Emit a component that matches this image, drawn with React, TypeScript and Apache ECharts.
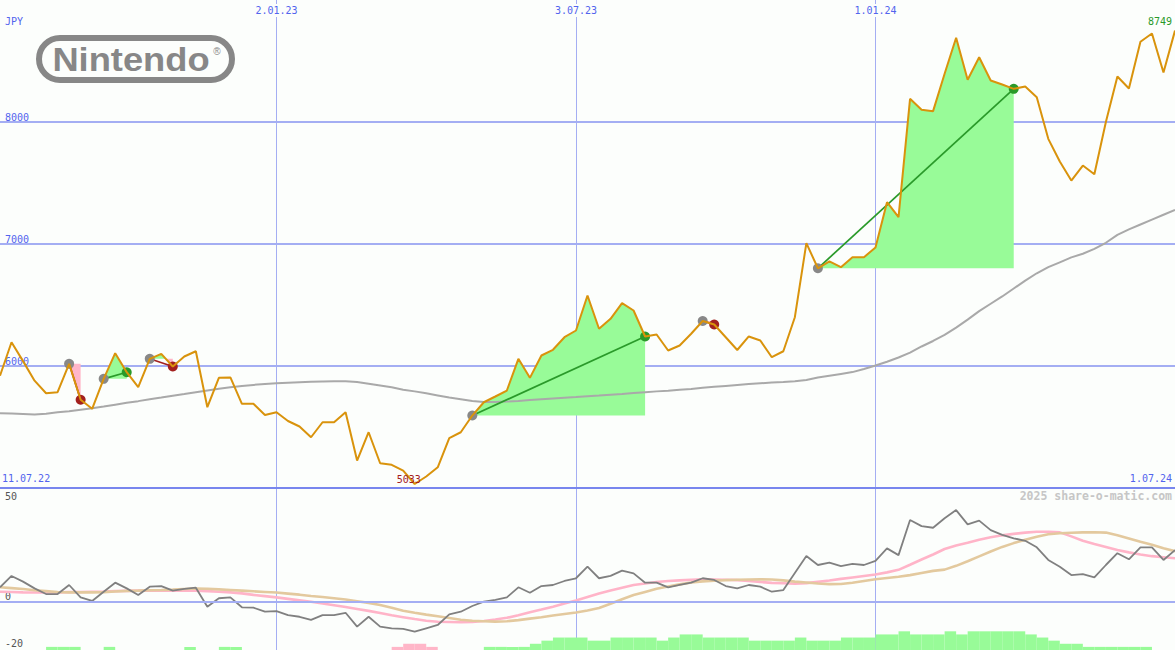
import React, { useEffect, useRef } from "react";
import * as echarts from "echarts";

// ---- labels ----
const currency = "JPY";
const rangeStartLabel = "11.07.22";
const rangeEndLabel = "1.07.24";
const creditText = "2025 share-o-matic.com";
const tickDates = ["2.01.23", "3.07.23", "1.01.24"];
const firstWeek = [2022, 6, 18]; // Monday 18 July 2022
const weekCount = 103;

// ---- price panel (JPY, weekly closes) ----
const priceMin = 5000;
const priceMax = 9000;
const priceStep = 1000;

const price = [
  5920, 6195, 6040, 5880, 5777, 5785, 6018, 5723, 5649, 5895,
  6105, 5949, 5826, 6059, 6100, 5996, 6078, 6121, 5662, 5903,
  5906, 5690, 5690, 5598, 5621, 5549, 5504, 5416, 5539, 5539,
  5621, 5225, 5457, 5203, 5190, 5143, 5033, 5094, 5170, 5408,
  5457, 5594, 5703, 5750, 5799, 6059, 5903, 6086, 6133, 6236,
  6291, 6578, 6305, 6387, 6515, 6455, 6242, 6258, 6127, 6168,
  6264, 6369, 6340, 6236, 6131, 6242, 6209, 6072, 6121, 6400,
  7007, 6801, 6857, 6810, 6892, 6892, 6971, 7343, 7220, 8190,
  8100, 8089, 8395, 8690, 8346, 8531, 8340, 8307, 8272, 8291,
  8203, 7862, 7676, 7520, 7643, 7572, 8000, 8373, 8275, 8658,
  8725, 8406, 8749,
];

const movingAvg = [
  5613, 5610, 5606, 5602, 5608, 5620, 5630, 5642, 5654, 5668,
  5683, 5698, 5712, 5727, 5741, 5756, 5770, 5785, 5800, 5814,
  5826, 5836, 5845, 5852, 5859, 5863, 5867, 5870, 5872, 5874,
  5875, 5868, 5855, 5840, 5825, 5806, 5792, 5776, 5759, 5742,
  5728, 5714, 5704, 5704, 5708, 5714, 5722, 5728, 5734, 5740,
  5745, 5752, 5758, 5765, 5771, 5778, 5785, 5792, 5798, 5805,
  5812, 5821, 5829, 5837, 5845, 5852, 5858, 5864, 5869, 5875,
  5885, 5905, 5920, 5935, 5950, 5975, 6004, 6035, 6070, 6110,
  6160, 6205, 6255, 6315, 6380, 6450, 6510, 6570, 6635, 6700,
  6760, 6810, 6850, 6890, 6920, 6960, 7010, 7075, 7120, 7160,
  7200, 7240, 7279,
];

// trades: entry week index -> exit week index
const tradeStart = [6, 9, 13, 41, 61, 71];
const tradeEnd = [7, 11, 15, 56, 62, 88];

// ---- indicator panel ----
const lowerMin = -23;
const lowerMax = 54;
const lowerTicks = [-20, 0, 50];

const momentum = [
  6.8, 12.2, 9.5, 6.3, 3.6, 3.6, 7.9, 2.0, 0.3, 4.7,
  9.0, 6.3, 3.1, 7.1, 7.4, 5.2, 6.1, 6.6, -2.4, 1.6,
  2.0, -2.7, -2.9, -4.8, -4.5, -6.4, -7.2, -8.7, -6.4, -6.4,
  -5.3, -11.9, -7.2, -11.9, -12.7, -13.0, -14.3, -12.7, -11.1, -6.1,
  -4.8, -2.1, 0, 0.8, 2.0, 6.8, 4.2, 7.4, 7.9, 9.8,
  11.1, 16.6, 11.1, 12.2, 14.7, 13.4, 9.0, 9.0, 6.8, 7.9,
  9.0, 11.1, 10.3, 7.4, 6.3, 7.9, 7.1, 4.7, 5.5, 13.6,
  21.7, 17.4, 18.5, 16.9, 17.9, 17.4, 19.4, 25.3, 22.1, 38.8,
  35.9, 35.1, 39.6, 43.5, 36.7, 38.5, 34.0, 31.7, 30.1, 28.9,
  25.8, 19.8, 16.6, 12.6, 13.1, 11.5, 17.4, 23.0, 20.1, 25.8,
  25.8, 19.8, 24.5,
];

const momentumFast = [
  4.7, 4.6, 4.4, 4.3, 4.3, 4.4, 4.5, 4.6, 4.7, 4.8,
  5.0, 5.1, 5.2, 5.2, 5.2, 5.2, 5.2, 5.2, 5.0, 4.7,
  4.4, 3.9, 3.2, 2.6, 2.0, 1.3, 0.6, -0.1, -0.9, -1.7,
  -2.6, -3.5, -4.4, -5.4, -6.5, -7.4, -8.3, -9.1, -9.6, -9.7,
  -9.8, -9.7, -9.2, -8.5, -7.7, -6.5, -5.1, -3.8, -2.4, -0.9,
  0.5, 2.2, 3.9, 5.3, 6.6, 7.9, 8.6, 9.3, 9.8, 10.1,
  10.4, 10.6, 10.5, 10.4, 10.2, 9.8, 9.3, 8.9, 8.7, 8.5,
  8.8, 9.4, 10.0, 10.8, 11.5, 12.2, 12.9, 13.9, 15.1, 17.5,
  20.0, 22.4, 25.0, 26.7, 28.0, 29.4, 30.6, 31.5, 32.2, 32.8,
  33.2, 33.2, 32.9, 31.0, 28.9, 27.4, 26.0, 24.5, 23.4, 22.4,
  21.6, 21.1, 20.6,
];

const momentumSlow = [
  6.8, 6.4, 6.0, 5.4, 5.0, 4.6, 4.4, 4.4, 4.4, 4.5,
  4.8, 5.1, 5.2, 5.4, 5.5, 5.7, 6.0, 6.2, 6.1, 5.8,
  5.5, 5.2, 4.9, 4.6, 4.3, 3.8, 3.3, 2.7, 2.2, 1.6,
  1.0, 0.2, -0.6, -1.6, -2.9, -4.3, -5.3, -6.2, -7.0, -7.8,
  -8.6, -9.1, -9.3, -9.5, -9.3, -8.8, -8.1, -7.4, -6.6, -5.9,
  -5.2, -4.2, -3.0, -1.0, 1.1, 3.1, 4.6, 6.1, 7.2, 8.2,
  9.1, 9.6, 9.9, 10.2, 10.4, 10.5, 10.6, 10.5, 10.1, 9.5,
  9.1, 8.6, 8.3, 8.4, 9.0, 9.8, 10.6, 11.2, 11.8, 12.6,
  13.6, 14.6, 15.2, 17.0, 19.2, 21.5, 23.8, 26.0, 27.8, 29.4,
  30.8, 32.0, 32.5, 32.7, 32.9, 33.0, 32.8, 31.5, 30.0, 28.4,
  27.0, 25.4, 24.0,
];

// signal strength per week interval (positive = buy, negative = sell)
const signalBins = [
  0, 0, 0, 0, 1, 1, 1, 0, 0, 1,
  0, 0, 0, 0, 0, 0, 1, 0, 0, 1,
  1, 0, 0, 0, 0, 0, 0, 0, 0, 0,
  0, 0, 0, 0, -1, -2, -2, -1, 0, 0,
  0, 0, 1, 1, 1, 1, 2, 3, 4, 4,
  4, 3, 3, 4, 4, 4, 4, 3, 4, 5,
  5, 4, 4, 4, 4, 3, 3, 3, 3, 4,
  3, 3, 3, 4, 4, 4, 5, 5, 6, 5,
  5, 5, 6, 5, 6, 6, 6, 6, 6, 5,
  4, 3, 2, 2, 1, 1, 1, 1, 1, 1,
  0, 0,
];
const signalMax = 52;

// ---- styling ----
const BG = "#fcfefc";
const FONT = '"DejaVu Sans Mono", monospace';
const LABEL_BLUE = "#5264ee";
const GRID_LINE = "#a4aef3";
const BORDER = "#7886ee";
const PRICE_COLOR = "#d9930c";
const AVG_COLOR = "#a9a9a9";
const GAIN_FILL = "#98fb98";
const LOSS_FILL = "#ffb6c8";
const GAIN_LINE = "#2a9a2a";
const LOSS_LINE = "#a3201e";
const ENTRY_DOT = "#888888";

function weekLabels(): string[] {
  const out: string[] = [];
  const start = Date.UTC(firstWeek[0], firstWeek[1], firstWeek[2]);
  for (let k = 0; k < weekCount; k++) {
    const d = new Date(start + k * 7 * 86400000);
    const dd = d.getUTCDate();
    const mm = String(d.getUTCMonth() + 1).padStart(2, "0");
    const yy = String(d.getUTCFullYear() % 100).padStart(2, "0");
    out.push(`${dd}.${mm}.${yy}`);
  }
  return out;
}

const isTick = (_i: number, value: string) => tickDates.includes(value);

// area between the price and the entry level for each trade
function renderTradeFill(params: any, api: any) {
  const k = params.dataIndex;
  const s = tradeStart[k];
  const e = tradeEnd[k];
  const by = api.coord([s, price[s]])[1];
  const pts: number[][] = [];
  for (let i = s; i <= e; i++) {
    const p = api.coord([i, price[i]]);
    if (pts.length) {
      const prev = pts[pts.length - 1];
      if ((prev[1] - by) * (p[1] - by) < 0) {
        const t = (by - prev[1]) / (p[1] - prev[1]);
        pts.push([prev[0] + t * (p[0] - prev[0]), by]);
      }
    }
    pts.push([p[0], p[1]]);
  }
  const x0 = pts[0][0];
  const x1 = pts[pts.length - 1][0];
  const above = pts.map(([x, y]) => [x, Math.min(y, by)]).concat([[x1, by], [x0, by]]);
  const below = pts.map(([x, y]) => [x, Math.max(y, by)]).concat([[x1, by], [x0, by]]);
  return {
    type: "group",
    children: [
      { type: "polygon", shape: { points: above }, style: { fill: GAIN_FILL } },
      { type: "polygon", shape: { points: below }, style: { fill: LOSS_FILL } },
    ],
  };
}

// entry/exit markers joined by a line
function renderTradeMarks(params: any, api: any) {
  const k = params.dataIndex;
  const s = tradeStart[k];
  const e = tradeEnd[k];
  const a = api.coord([s, price[s]]);
  const b = api.coord([e, price[e]]);
  const gain = price[e] >= price[s];
  return {
    type: "group",
    children: [
      {
        type: "line",
        shape: { x1: a[0], y1: a[1], x2: b[0], y2: b[1] },
        style: { stroke: gain ? GAIN_LINE : LOSS_LINE, lineWidth: 1.7 },
      },
      { type: "circle", shape: { cx: a[0], cy: a[1], r: 5 }, style: { fill: ENTRY_DOT } },
      {
        type: "circle",
        shape: { cx: b[0], cy: b[1], r: 5 },
        style: { fill: gain ? GAIN_LINE : LOSS_LINE },
      },
    ],
  };
}

function buildOption() {
  const weeks = weekLabels();
  const bins = weeks.slice(0, weeks.length - 1);
  const tradeData = tradeStart.map((s) => [s, price[s]]);

  return {
    animation: false,
    backgroundColor: BG,
    grid: [
      { left: 0, right: 0, top: 0, height: 488 },
      { left: 0, right: 0, top: 488, height: 162 },
    ],
    xAxis: [
      {
        gridIndex: 0,
        type: "category",
        data: weeks,
        boundaryGap: false,
        position: "top",
        axisLine: { show: false },
        axisTick: { show: false },
        axisLabel: {
          inside: true,
          interval: isTick,
          margin: 4,
          color: LABEL_BLUE,
          fontFamily: FONT,
          fontSize: 10,
          backgroundColor: BG,
          padding: [1, 1, 2, 1],
        },
        splitLine: { show: true, interval: isTick, lineStyle: { color: GRID_LINE, width: 1 } },
      },
      {
        gridIndex: 0,
        type: "category",
        data: weeks,
        boundaryGap: false,
        position: "bottom",
        axisLine: { show: true, lineStyle: { color: BORDER, width: 2 } },
        axisTick: { show: false },
        axisLabel: { show: false },
        splitLine: { show: false },
      },
      {
        gridIndex: 1,
        type: "category",
        data: weeks,
        boundaryGap: false,
        axisLine: { show: false },
        axisTick: { show: false },
        axisLabel: { show: false },
        splitLine: { show: true, interval: isTick, lineStyle: { color: GRID_LINE, width: 1 } },
      },
      {
        gridIndex: 1,
        type: "category",
        data: bins,
        boundaryGap: true,
        show: false,
      },
    ],
    yAxis: [
      {
        gridIndex: 0,
        type: "value",
        min: priceMin,
        max: priceMax,
        interval: priceStep,
        axisLine: { show: false },
        axisTick: { show: false },
        axisLabel: {
          inside: true,
          showMinLabel: false,
          showMaxLabel: false,
          verticalAlign: "bottom",
          margin: 5,
          color: LABEL_BLUE,
          fontFamily: FONT,
          fontSize: 10,
          formatter: (v: number) => String(v),
        },
        splitLine: {
          show: true,
          lineStyle: {
            color: [GRID_LINE, GRID_LINE, GRID_LINE, GRID_LINE, "rgba(0,0,0,0)"],
            width: 2,
          },
        },
      },
      {
        gridIndex: 1,
        type: "value",
        min: lowerMin,
        max: lowerMax,
        axisLine: { show: false },
        axisTick: { show: false },
        splitLine: { show: false },
        axisLabel: {
          inside: true,
          customValues: lowerTicks,
          margin: 5,
          color: "#555555",
          fontFamily: FONT,
          fontSize: 10,
          verticalAlign: "middle",
          formatter: (v: number) => (v === 0 ? "{lift|0}" : String(v)),
          rich: {
            lift: { padding: [0, 0, 11, 0], color: "#555555", fontFamily: FONT, fontSize: 10 },
          },
        },
      },
      { gridIndex: 1, type: "value", min: 0, max: signalMax, show: false },
    ],
    series: [
      {
        name: "trade areas",
        type: "custom",
        xAxisIndex: 0,
        yAxisIndex: 0,
        data: tradeData,
        renderItem: renderTradeFill,
        silent: true,
        z: 1,
      },
      {
        name: "moving average",
        type: "line",
        xAxisIndex: 0,
        yAxisIndex: 0,
        data: movingAvg,
        symbol: "none",
        lineStyle: { color: AVG_COLOR, width: 2 },
        silent: true,
        z: 2,
      },
      {
        name: "trades",
        type: "custom",
        xAxisIndex: 0,
        yAxisIndex: 0,
        data: tradeData,
        renderItem: renderTradeMarks,
        silent: true,
        z: 3,
      },
      {
        name: "price",
        type: "line",
        xAxisIndex: 0,
        yAxisIndex: 0,
        data: price,
        symbol: "none",
        lineStyle: { color: PRICE_COLOR, width: 2 },
        silent: true,
        z: 4,
        markPoint: {
          symbol: "circle",
          symbolSize: 1,
          itemStyle: { color: "rgba(0,0,0,0)" },
          label: {
            show: true,
            position: "inside",
            fontFamily: FONT,
            fontSize: 10,
            formatter: (p: any) => String(p.value),
          },
          data: [
            { type: "max", label: { color: GAIN_LINE, offset: [-15, -9] } },
            { type: "min", label: { color: LOSS_LINE, offset: [-6, -4] } },
          ],
        },
      },
      {
        name: "signal",
        type: "bar",
        xAxisIndex: 3,
        yAxisIndex: 2,
        barCategoryGap: "0%",
        data: signalBins.map((v) => ({
          value: Math.abs(v),
          itemStyle: { color: v >= 0 ? GAIN_FILL : LOSS_FILL },
        })),
        silent: true,
        z: 1,
      },
      {
        name: "momentum fast avg",
        type: "line",
        xAxisIndex: 2,
        yAxisIndex: 1,
        data: momentumFast,
        symbol: "none",
        lineStyle: { color: "#ffb4c8", width: 2.6 },
        silent: true,
        z: 2,
        markLine: {
          silent: true,
          symbol: "none",
          label: { show: false },
          lineStyle: { color: GRID_LINE, width: 2, type: "solid" },
          data: [{ yAxis: 0 }],
        },
      },
      {
        name: "momentum slow avg",
        type: "line",
        xAxisIndex: 2,
        yAxisIndex: 1,
        data: momentumSlow,
        symbol: "none",
        lineStyle: { color: "#e3c99e", width: 2.6 },
        silent: true,
        z: 3,
      },
      {
        name: "momentum",
        type: "line",
        xAxisIndex: 2,
        yAxisIndex: 1,
        data: momentum,
        symbol: "none",
        lineStyle: { color: "#808080", width: 1.8 },
        silent: true,
        z: 4,
      },
    ],
    graphic: [
      {
        type: "group",
        left: 36,
        top: 35,
        silent: true,
        children: [
          {
            type: "rect",
            shape: { x: 3, y: 3, width: 193, height: 42, r: 21 },
            style: { fill: "none", stroke: "#878787", lineWidth: 6 },
          },
          {
            type: "text",
            x: 95,
            y: 25,
            scaleX: 1.1,
            style: {
              text: "Nintendo",
              font: 'bold 33px "Liberation Sans", Arial, sans-serif',
              fill: "#878787",
              align: "center",
              verticalAlign: "middle",
            },
          },
          {
            type: "text",
            x: 181,
            y: 16,
            style: {
              text: "®",
              font: '10px "Liberation Sans", Arial, sans-serif',
              fill: "#878787",
              align: "center",
              verticalAlign: "middle",
            },
          },
        ],
      },
      {
        type: "text",
        left: 5,
        top: 16,
        style: { text: currency, font: `10px ${FONT}`, fill: LABEL_BLUE },
      },
      {
        type: "text",
        left: 2,
        top: 473,
        style: { text: rangeStartLabel, font: `10px ${FONT}`, fill: LABEL_BLUE },
      },
      {
        type: "text",
        right: 3,
        top: 473,
        style: { text: rangeEndLabel, font: `10px ${FONT}`, fill: LABEL_BLUE },
      },
      {
        type: "text",
        right: 3,
        top: 490,
        style: { text: creditText, font: `bold 11.5px ${FONT}`, fill: "#c6c6c6" },
      },
    ],
  };
}

export default function App() {
  const ref = useRef<HTMLDivElement>(null);
  useEffect(() => {
    document.body.style.margin = "0";
    const chart = echarts.init(ref.current as HTMLDivElement, undefined, { renderer: "svg" });
    chart.setOption(buildOption() as any);
    return () => chart.dispose();
  }, []);
  return (
    <div
      ref={ref}
      style={{ position: "absolute", left: 0, top: 0, width: 1175, height: 650 }}
    />
  );
}
